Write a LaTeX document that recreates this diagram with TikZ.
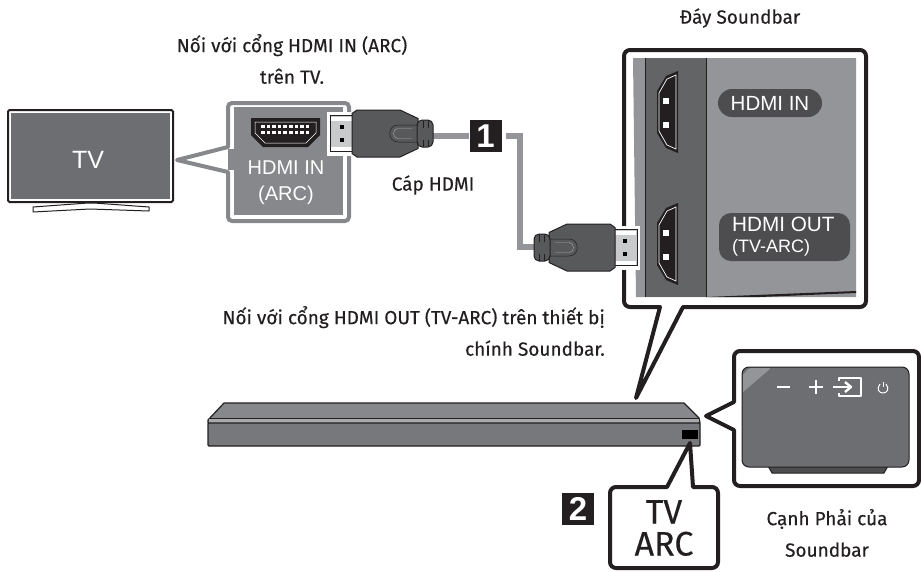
\documentclass[tikz,border=0pt]{standalone}
\usepackage{fontspec}
\setmainfont{Fira Sans}
\newfontfamily\capfont[FakeBold=0.3]{Fira Sans}
\newfontfamily\panelfont{Liberation Sans}
\usetikzlibrary{calc}
\definecolor{barlight}{HTML}{87888B}
\definecolor{barband}{HTML}{A7A9AC}
\definecolor{barfront}{HTML}{77787B}
\definecolor{tvgray}{HTML}{6D6E71}
\definecolor{panelgray}{HTML}{939598}
\definecolor{stripgray}{HTML}{636466}
\definecolor{pillgray}{HTML}{4D4D4F}
\definecolor{plugdark}{HTML}{58595B}
\definecolor{tipsilver}{HTML}{C9CACC}
\definecolor{inkblack}{HTML}{231F20}
\tikzset{
  caption/.style={font=\capfont\fontsize{19}{31.5}\selectfont,text=inkblack,align=center,inner sep=0pt},
  callout/.style={draw=inkblack,line width=4pt,line join=round,fill=white},
  badge/.style={fill=inkblack,text=white,minimum size=32pt,inner sep=0pt,font=\panelfont\bfseries\fontsize{33}{33}\selectfont},
  pill/.style={fill=pillgray,text=white,inner sep=0pt,font=\panelfont},
  icon/.style={draw=white,line width=2.4pt},
}
% plug drawn from its tip (0,0) towards the cable
\newcommand{\hdmiplug}[3]{%
  \begin{scope}[shift={(#1,#2)},xscale=#3]
  \fill[white] (-3,-22) rectangle (26,22);
  \draw[inkblack,fill=tipsilver,line width=1pt] (0,-18) rectangle (23,18);
  \fill[white] (1,-17) rectangle (22,-13);
  \fill[white] (1,13) rectangle (22,17);
  \fill[black] (10,-8.5) rectangle (14,-4.5);
  \fill[black] (10,4.5) rectangle (14,8.5);
  \draw[inkblack,fill=plugdark,line width=1pt,line join=round] (22,-20) -- (27,-23.5) -- (70,-23.5) -- (88,-15) -- (88,15) -- (70,23.5) -- (27,23.5) -- (22,20) -- cycle;
  \draw[inkblack,fill=plugdark,line width=1pt,rounded corners=5pt] (87,-13.5) -- (103,-13.5) -- (103,13.5) -- (87,13.5) -- cycle;
  \draw[inkblack,line width=.6pt] (93,-13) -- (93,-6) (98,-13) -- (98,-6) (93,13) -- (93,6) (98,13) -- (98,6);
  \draw[inkblack,line width=.5pt] (88,-8.5) -- (68,-8.5) .. controls (57,-8.5) and (57,8.5) .. (68,8.5) -- (88,8.5);
  \draw[barband,line width=.4pt] (82,-5) -- (68,-5) .. controls (62,-5) and (62,5) .. (68,5) -- (82,5);
  \end{scope}}
% upright socket of the soundbar
\newcommand{\sideport}[1]{%
  \begin{scope}[shift={(657,#1)}]
  \fill[inkblack] (21,0) -- (21,82) -- (9,77) -- (0,62) -- (0,20) -- (9,5) -- cycle;
  \draw[white,line width=.7pt] (19,4) -- (19,78) -- (10,74) -- (2,60) -- (2,22) -- (10,8) -- cycle;
  \fill[white] (6,27) rectangle (12,33);
  \fill[white] (6,51) rectangle (12,57);
  \end{scope}}
\begin{document}
\begin{tikzpicture}[x=1pt,y=-1pt]
\useasboundingbox (0,0) rectangle (921,571);

% === TV ===
\draw[inkblack,line width=2pt,rounded corners=1.5pt,fill=white] (8,110) rectangle (173,202);
\fill[tvgray] (11,113) rectangle (170,199);
\draw[inkblack,fill=white,line width=1pt,line join=round] (33,207) -- (88,203) -- (94,203) -- (149,207) -- (149,211) -- (90,209) -- (33,212) -- cycle;
\node[text=white,font=\panelfont\fontsize{25}{25}\selectfont] (tvlabel) at (88,160) {TV};

% === HDMI IN callout ===
\draw[barlight,line width=4pt,line join=round,fill=white] (177,160) -- (228,147) [rounded corners=4pt] -- (228,103) -- (349,103) -- (349,221) -- (228,221) [sharp corners] -- (228,172) -- cycle;
\fill[barlight] (234,107) rectangle (343,215);
\fill[barlight] (228,149) rectangle (234,170);
\fill[inkblack] (251,118) -- (320,118) -- (320,135) -- (308,147) -- (263,147) -- (251,135) -- cycle;
\draw[white,line width=.5pt] (255,122) -- (316,122) -- (316,133) -- (306,143) -- (265,143) -- (255,133) -- cycle;
\foreach \i in {0,...,8}{
  \fill[white] (261+\i*5.6,125) rectangle (264.5+\i*5.6,128);
  \fill[white] (261+\i*5.6,131) rectangle (264.5+\i*5.6,134);
}
\node[text=white,font=\panelfont\fontsize{20}{26}\selectfont,align=center,inner sep=0pt] (arclabel) at (286,183) {HDMI IN\\(ARC)};

% === Soundbar bottom callout ===
\draw[callout] (636,398) -- (660,307) [rounded corners=6pt] -- (624,307) -- (624,50) -- (866,50) -- (866,307) [sharp corners] -- (683,307) -- cycle;
\fill[panelgray] (633,58) -- (856,58) -- (856,297) -- (636,297) -- cycle;
\fill[stripgray] (646,58) rectangle (706,297);
\draw[inkblack,line width=.8pt] (645,58) -- (645,297);
\draw[inkblack,line width=.8pt] (706,58) -- (706,297);
\fill[inkblack] (706,297) -- (856,291) -- (856,293) -- (760,297) -- cycle;
\sideport{71}
\sideport{203}
\node[pill,minimum width=104pt,minimum height=28pt,rounded corners=14pt,font=\panelfont\fontsize{20.5}{20.5}\selectfont] (hdmiin) at (770,103) {HDMI IN};
\fill[pillgray,rounded corners=12pt] (719,213) rectangle (850,261);
\node[text=white,font=\panelfont\fontsize{20.7}{21}\selectfont,align=left,inner sep=0pt,anchor=west] (hdmiout) at (732,237) {HDMI OUT\\{\fontsize{18}{21}\selectfont(TV-ARC)}};

% === HDMI cable ===
\node[badge] (badgeone) at (485.5,136) {1};
\coordinate (cableleft) at (432,136);
\coordinate (cablecorner) at (520,136);
\coordinate (cableright) at (534,247);
\draw[panelgray,line width=6pt] (cableleft) -- (badgeone.west);
\draw[panelgray,line width=6pt] (badgeone.east) ++(4,0) -- (cablecorner) |- (cableright);
\hdmiplug{330}{133.5}{1}
\hdmiplug{637}{247.5}{-1}
\node[caption] (cablelabel) at (433,185) {Cáp HDMI};

% === Soundbar ===
\draw[inkblack,line width=1.2pt,fill=barlight,line join=round] (208,423) -- (208,420) -- (224,403) -- (684,403) -- (699,418) -- (700,423) -- cycle;
\fill[barband] (209,418) rectangle (699,423);
\draw[inkblack,line width=1pt] (209,418) -- (699,418);
\draw[inkblack,line width=1.2pt,fill=barfront,rounded corners=1pt] (208,423) rectangle (700,446);
\fill[black] (682,430) rectangle (698,439);

% === Right side callout ===
\draw[callout] (706,416) -- (734,402) [rounded corners=6pt] -- (734,351) -- (919,351) -- (919,486) -- (734,486) [sharp corners] -- (734,430) -- cycle;
\draw[inkblack,fill=pillgray,line width=1pt] (768,466) -- (772,473) -- (884,473) -- (888,466) -- cycle;
\draw[inkblack,fill=tvgray,line width=1pt,rounded corners=7pt] (742,367) rectangle (909,467);
\fill[panelgray] (743,392) -- (743,375) [rounded corners=2pt] -- (749,368) -- (771,368) [sharp corners] -- cycle;
\draw[icon] (777,387) -- (790,387);
\draw[icon] (809,387) -- (823,387) (816,380) -- (816,394);
\draw[icon,line join=round] (839,381) -- (839,378) -- (861,378) -- (861,396) -- (839,396) -- (839,393);
\draw[icon] (833,387) -- (851,387);
\draw[icon,line join=round] (845,382) -- (851,387) -- (845,392);
\draw[white,line width=1pt] (880,384) .. controls (876,389) and (879,393) .. (883,393) .. controls (887,393) and (890,389) .. (886,384);
\draw[white,line width=1pt] (883,382) -- (883,387);

% === TV ARC box ===
\draw[callout] (690,443) -- (693,487) [rounded corners=6pt] -- (718,487) -- (718,568) -- (610,568) -- (610,487) [sharp corners] -- (667,487) -- cycle;
\node[caption,font=\capfont\fontsize{34}{32}\selectfont] (arcbox) at (664,528) {TV\\ARC};
\node[badge] (badgetwo) at (578,509) {2};

% === Captions ===
\node[caption] (soundbarlabel) at (740,18) {Đáy Soundbar};
\node[caption] (tvport) at (292,59) {Nối với cổng HDMI IN (ARC)\\trên TV.};
\node[caption,align=right,anchor=east] (outport) at (605,331) {Nối với cổng HDMI OUT (TV-ARC) trên thiết bị\\chính Soundbar.};
\node[caption] (sidelabel) at (827,533) {Cạnh Phải của\\Soundbar};

\end{tikzpicture}
\end{document}
